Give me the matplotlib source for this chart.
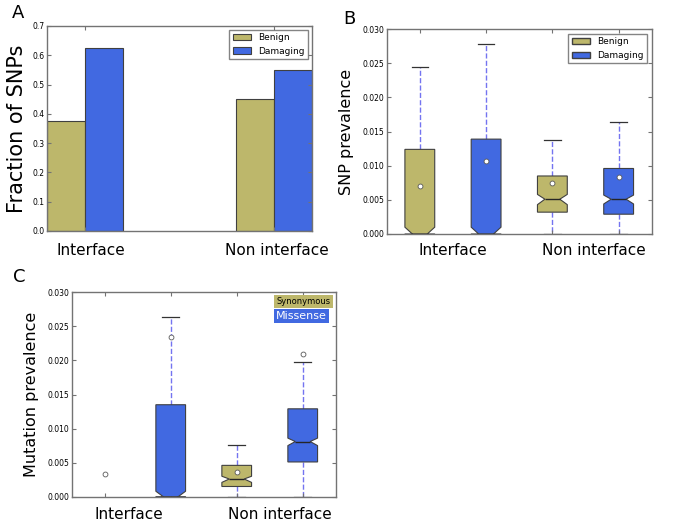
import matplotlib
matplotlib.use("Agg")
import matplotlib.pyplot as plt
import matplotlib.patches as mpatches
import numpy as np

# colours
khaki = '#bdb76b'
blue = '#4169e1'

# panel A: fraction of SNPs
groups = ['Interface', 'Non interface']
benign_frac = [0.375, 0.45]
damaging_frac = [0.625, 0.55]

# panel B: SNP prevalence box stats (benign int, damaging int, benign non, damaging non)
b_q1 = [0.0, 0.0, 0.0032, 0.0029]
b_med = [0.0, 0.0, 0.0051, 0.0051]
b_q3 = [0.0124, 0.0139, 0.0085, 0.0096]
b_cilo = [-0.001, -0.001, 0.0043, 0.0044]
b_cihi = [0.001, 0.001, 0.0058, 0.0057]
b_whislo = [0.0, 0.0, 0.0, 0.0]
b_whishi = [0.0244, 0.0278, 0.0138, 0.0164]
b_mean = [0.0070, 0.0107, 0.0074, 0.0083]

# panel C: mutation prevalence box stats (syn int, mis int, syn non, mis non)
c_q1 = [0.0, 0.0, 0.0015, 0.0051]
c_med = [0.0, 0.0, 0.0026, 0.0081]
c_q3 = [0.0, 0.0135, 0.0046, 0.0129]
c_cilo = [0.0, -0.0008, 0.0021, 0.0075]
c_cihi = [0.0, 0.0008, 0.0030, 0.0086]
c_whislo = [0.0, 0.0, 0.0, 0.0]
c_whishi = [0.0, 0.0264, 0.0076, 0.0198]
c_mean = [0.0033, 0.0234, 0.0036, 0.0209]

fig = plt.figure(figsize=(6.85, 5.25), dpi=100)


def style_axes(ax):
    for s in ax.spines.values():
        s.set_color('0.45')
        s.set_linewidth(1.0)
    ax.tick_params(direction='in', top=True, right=True, labelsize=5.5,
                   length=3, color='0.45', pad=2)


# ---- A ----
axA = fig.add_axes([0.0686, 0.56, 0.387, 0.3905])
width = 0.35
ind = np.array([0.0, 1.75])
axA.bar(ind, benign_frac, width, align='edge', color=khaki, edgecolor='0.25',
        linewidth=0.8, label='Benign')
axA.bar(ind + width, damaging_frac, width, align='edge', color=blue,
        edgecolor='0.25', linewidth=0.8, label='Damaging')
axA.set_xlim(0, 2.45)
axA.set_ylim(0, 0.7)
axA.set_yticks(np.arange(0, 0.71, 0.1))
axA.set_xticks(ind + width)
axA.set_xticklabels(['', ''])
style_axes(axA)
axA.legend(loc='upper right', fontsize=6.5, frameon=True, fancybox=False,
           handlelength=2, borderaxespad=0.4, edgecolor='0.4')
for xx, lab in zip([0.41, 2.12], groups):
    axA.text(xx, -0.095, lab, transform=axA.get_xaxis_transform(),
             ha='center', va='center', fontsize=11)
axA.set_ylabel('Fraction of SNPs', fontsize=15, labelpad=4)
fig.text(18 / 685, 1 - 13 / 525, 'A', fontsize=13, ha='center', va='center')


def make_stats(q1, med, q3, cilo, cihi, wlo, whi, mean):
    out = []
    for i in range(len(q1)):
        out.append(dict(q1=q1[i], med=med[i], q3=q3[i], cilo=cilo[i],
                        cihi=cihi[i], whislo=wlo[i], whishi=whi[i],
                        mean=mean[i], fliers=[]))
    return out


def draw_boxes(ax, stats, colors, draw_mask):
    pos = [1, 2, 3, 4]
    for st, p, c, d in zip(stats, pos, colors, draw_mask):
        if d:
            res = ax.bxp([st], positions=[p], widths=0.45, capwidths=0.25,
                         shownotches=True, showmeans=True, patch_artist=True,
                         boxprops=dict(facecolor=c, edgecolor='0.25', linewidth=0.8),
                         medianprops=dict(color='0.15', linewidth=1.0),
                         whiskerprops=dict(color='#7474f0', linestyle='--', linewidth=1.0),
                         capprops=dict(color='0.2', linewidth=0.9),
                         meanprops=dict(marker='o', markerfacecolor='white',
                                        markeredgecolor='0.35', markersize=3.5,
                                        markeredgewidth=0.6),
                         manage_ticks=False)
            for w in res['whiskers']:
                w.set_zorder(0.5)
        else:
            ax.plot([p], [st['mean']], 'o', markerfacecolor='white',
                    markeredgecolor='0.35', markersize=3.5, markeredgewidth=0.6)
    ax.set_xlim(0.5, 4.5)
    ax.set_ylim(0, 0.030)
    ax.set_yticks(np.arange(0, 0.0301, 0.005))
    ax.set_yticklabels(['%.3f' % v for v in np.arange(0, 0.0301, 0.005)])
    ax.set_xticks(pos)
    ax.set_xticklabels(['', '', '', ''])
    style_axes(ax)


# ---- B ----
axB = fig.add_axes([0.5645, 0.5543, 0.387, 0.39])
statsB = make_stats(b_q1, b_med, b_q3, b_cilo, b_cihi, b_whislo, b_whishi, b_mean)
draw_boxes(axB, statsB, [khaki, blue, khaki, blue], [True] * 4)
axB.legend(handles=[mpatches.Patch(facecolor=khaki, edgecolor='0.25', label='Benign'),
                    mpatches.Patch(facecolor=blue, edgecolor='0.25', label='Damaging')],
           loc='upper right', fontsize=6.5, frameon=True, fancybox=False,
           handlelength=2, borderaxespad=0.5, edgecolor='0.4')
for xx, lab in zip([1.5, 3.63], groups):
    axB.text(xx, -0.08, lab, transform=axB.get_xaxis_transform(),
             ha='center', va='center', fontsize=11)
axB.set_ylabel('SNP prevalence', fontsize=11.5, labelpad=6)
fig.text(349 / 685, 1 - 19 / 525, 'B', fontsize=13, ha='center', va='center')

# ---- C ----
axC = fig.add_axes([0.1047, 0.0539, 0.3854, 0.3893])
statsC = make_stats(c_q1, c_med, c_q3, c_cilo, c_cihi, c_whislo, c_whishi, c_mean)
draw_boxes(axC, statsC, [khaki, blue, khaki, blue], [False, True, True, True])
axC.text(0.775, 0.955, 'Synonymous', transform=axC.transAxes, fontsize=6,
         color='black', ha='left', va='center',
         bbox=dict(facecolor=khaki, edgecolor='none', pad=1.5))
axC.text(0.775, 0.885, 'Missense', transform=axC.transAxes, fontsize=8,
         color='white', ha='left', va='center',
         bbox=dict(facecolor=blue, edgecolor='none', pad=1.5))
for xx, lab in zip([1.36, 3.65], groups):
    axC.text(xx, -0.085, lab, transform=axC.get_xaxis_transform(),
             ha='center', va='center', fontsize=11)
axC.set_ylabel('Mutation prevalence', fontsize=11.5, labelpad=6)
fig.text(19 / 685, 1 - 277 / 525, 'C', fontsize=13, ha='center', va='center')

fig.savefig('out.png', dpi=100)
